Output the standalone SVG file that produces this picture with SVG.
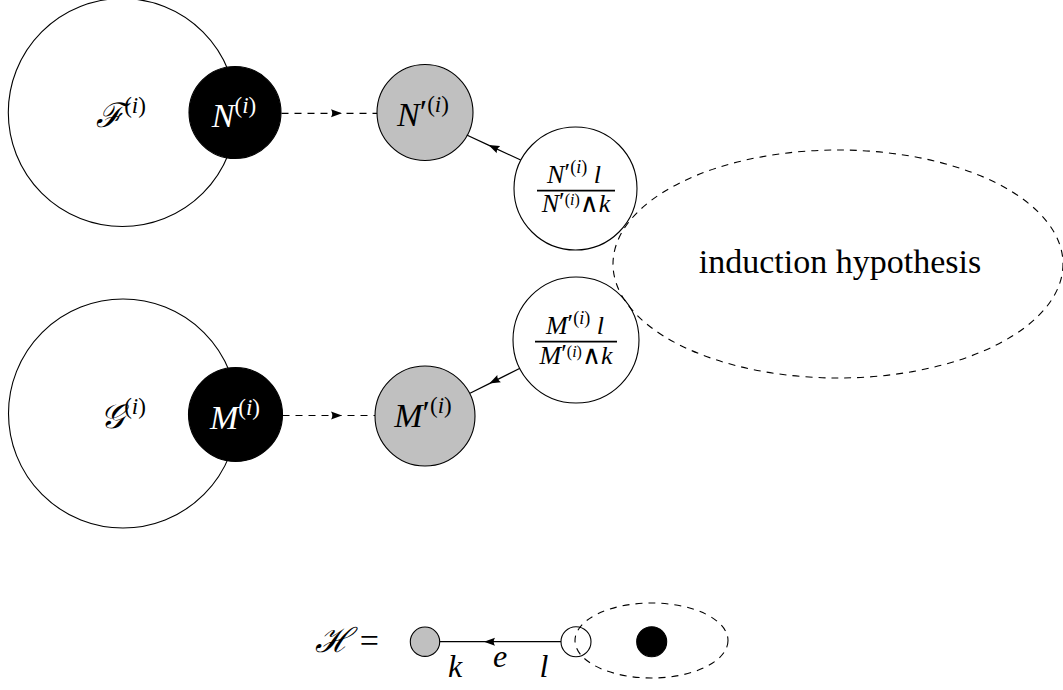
<svg xmlns="http://www.w3.org/2000/svg" width="1063" height="690" viewBox="0 0 1063 690">
<defs>
<style>
.c{stroke:#000;stroke-width:1.1}
.w{fill:#fff}
.b{fill:#000}
.g{fill:#c0c0c0}
.dash{stroke-dasharray:7 6}
.t{font-family:"Liberation Serif","DejaVu Serif","DejaVu Sans",serif;fill:#000;text-anchor:middle}
.it{font-style:italic}
.wt{fill:#fff}
.ln{stroke:#000;stroke-width:1.2;fill:none}
.bar{stroke:#000;stroke-width:1.7}
.op{font-family:"DejaVu Serif",serif;font-style:normal}
</style>
<marker id="ah" markerUnits="userSpaceOnUse" markerWidth="12" markerHeight="10" refX="11" refY="5" orient="auto" viewBox="0 0 12 10">
<path d="M0,1 L11,5 L0,9 Q2.5,5 0,1 z" fill="#000"/>
</marker>
</defs>
<rect width="1063" height="690" fill="#fff"/>

<g id="F">
<circle class="c w" cx="122.3" cy="112.5" r="114"/>
<text class="t" x="121" y="127" font-size="34"><tspan font-family="DejaVu Serif" class="it">ℱ</tspan><tspan font-size="23" dy="-14">(<tspan class="it">i</tspan>)</tspan></text>
</g>
<g id="G">
<circle class="c w" cx="123" cy="413.5" r="114.5"/>
<text class="t" x="123" y="428" font-size="34"><tspan font-family="DejaVu Serif" class="it">𝒢</tspan><tspan font-size="23" dy="-14">(<tspan class="it">i</tspan>)</tspan></text>
</g>
<g id="N">
<circle class="c b" cx="235" cy="112.5" r="46"/>
<text class="t wt" x="234" y="127" font-size="34"><tspan class="it">N</tspan><tspan font-size="23" dy="-14">(<tspan class="it">i</tspan>)</tspan></text>
</g>
<g id="M">
<circle class="c b" cx="235.5" cy="414.5" r="47"/>
<text class="t wt" x="235" y="429" font-size="34"><tspan class="it">M</tspan><tspan font-size="23" dy="-14">(<tspan class="it">i</tspan>)</tspan></text>
</g>
<g id="Np">
<circle class="c g" cx="425" cy="112.5" r="48"/>
<text class="t" x="423" y="126" font-size="34"><tspan class="it">N</tspan><tspan dy="-3">′</tspan><tspan font-size="23" dy="-11">(<tspan class="it">i</tspan>)</tspan></text>
</g>
<g id="Mp">
<circle class="c g" cx="425" cy="416" r="50"/>
<text class="t" x="423" y="427" font-size="34"><tspan class="it">M</tspan><tspan dy="-3">′</tspan><tspan font-size="23" dy="-11">(<tspan class="it">i</tspan>)</tspan></text>
</g>
<g id="Nfrac">
<circle class="c w" cx="575.5" cy="188.5" r="61.5"/>
<text class="t" x="574" y="182.5" font-size="26"><tspan class="it">N</tspan><tspan dy="-2">′</tspan><tspan font-size="18" dy="-8">(<tspan class="it">i</tspan>)</tspan><tspan class="it" dy="10"> l</tspan></text>
<line class="bar" x1="537" y1="190.7" x2="615" y2="190.7"/>
<text class="t" x="576" y="212" font-size="26"><tspan class="it">N</tspan><tspan dy="-2">′</tspan><tspan font-size="16" dy="-5">(<tspan class="it">i</tspan>)</tspan><tspan class="op" dy="7">∧</tspan><tspan class="it">k</tspan></text>
</g>
<g id="Mfrac">
<circle class="c w" cx="576" cy="340" r="63"/>
<text class="t" x="575" y="333.5" font-size="26"><tspan class="it">M</tspan><tspan dy="-2">′</tspan><tspan font-size="18" dy="-8">(<tspan class="it">i</tspan>)</tspan><tspan class="it" dy="10"> l</tspan></text>
<line class="bar" x1="535" y1="341.7" x2="617" y2="341.7"/>
<text class="t" x="576" y="364" font-size="26"><tspan class="it">M</tspan><tspan dy="-2">′</tspan><tspan font-size="16" dy="-5">(<tspan class="it">i</tspan>)</tspan><tspan class="op" dy="7">∧</tspan><tspan class="it">k</tspan></text>
</g>
<g id="IH">
<ellipse class="c dash" fill="none" cx="838" cy="264" rx="225" ry="114"/>
<text class="t" x="840" y="273" font-size="34">induction hypothesis</text>
</g>

<g id="Hlabel">
<text class="t" x="347" y="652" font-size="34"><tspan font-family="DejaVu Serif" class="it">ℋ</tspan> =</text>
</g>
<g id="Hk">
<circle class="c g" cx="425" cy="641.7" r="14.7"/>
</g>
<g id="Hl">
<circle class="c w" cx="576" cy="641.7" r="15"/>
</g>
<g id="Hblack">
<circle class="c b" cx="651.7" cy="641.7" r="15"/>
</g>
<g id="Hellipse">
<ellipse class="c dash" fill="none" cx="651.5" cy="640.5" rx="76.5" ry="37.5"/>
</g>

<g id="connectors">
<path class="ln dash" d="M281.5,113.3 L342,113.3 L377,113.3" marker-mid="url(#ah)"/>
<path class="ln dash" d="M282.5,415.5 L342,415.5 L375,415.5" marker-mid="url(#ah)"/>
<path class="ln" d="M520.7,160 L488.5,145.1 L466.7,135" marker-mid="url(#ah)"/>
<path class="ln" d="M520,368.3 L489.3,383.6 L470,393.3" marker-mid="url(#ah)"/>
<path class="ln" d="M561,641.7 L484,641.7 L439.7,641.7" marker-mid="url(#ah)"/>
<text class="t it" x="455" y="676.7" font-size="32">k</text>
<text class="t it" x="500" y="666.7" font-size="32">e</text>
<text class="t it" x="544" y="676.7" font-size="32">l</text>
</g>
</svg>
